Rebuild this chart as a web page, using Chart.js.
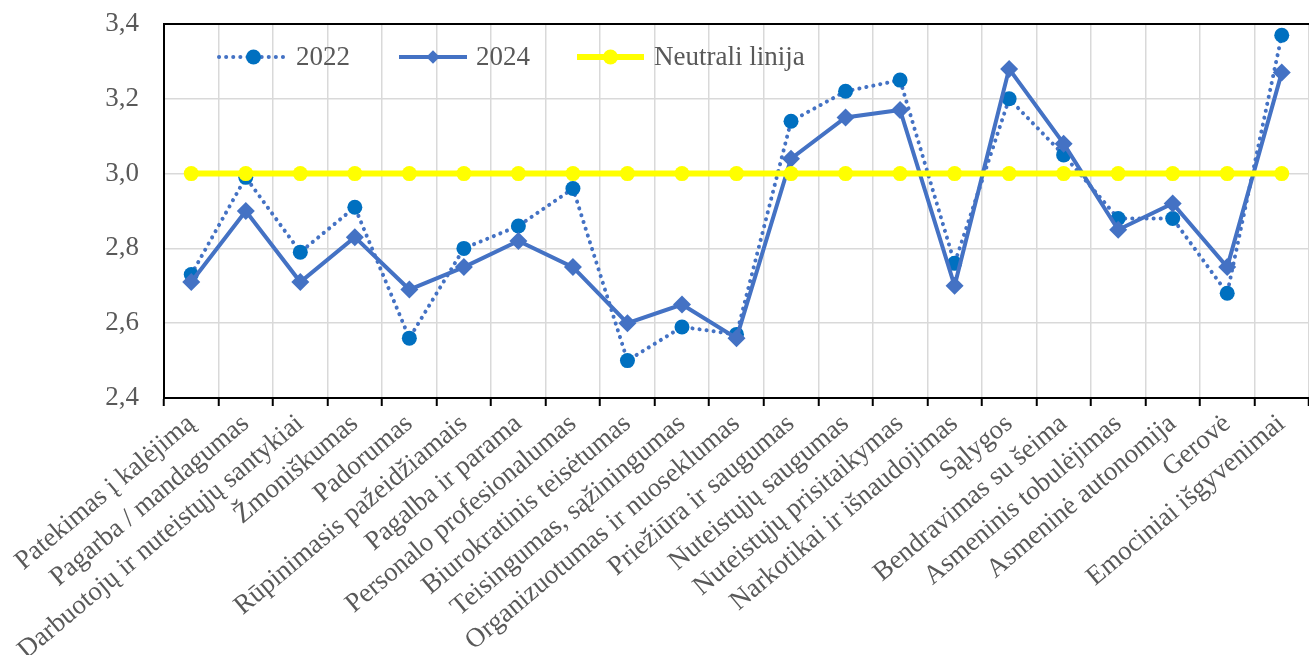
<!DOCTYPE html>
<html lang="lt">
<head>
<meta charset="utf-8">
<script src="https://cdn.jsdelivr.net/npm/chart.js@4/dist/chart.umd.min.js"></script>
<style>
  html, body { margin: 0; padding: 0; background: #fff; }
</style>
</head>
<body>
<canvas id="myChart" width="1309" height="655"></canvas>
<script>
// DUOMENYS ----------------------------------------------------------

const categories = [
  'Patekimas į kalėjimą', 'Pagarba / mandagumas', 'Darbuotojų ir nuteistųjų santykiai',
  'Žmoniškumas', 'Padorumas', 'Rūpinimasis pažeidžiamais', 'Pagalba ir parama',
  'Personalo profesionalumas', 'Biurokratinis teisėtumas', 'Teisingumas, sąžiningumas',
  'Organizuotumas ir nuoseklumas', 'Priežiūra ir saugumas', 'Nuteistųjų saugumas',
  'Nuteistųjų prisitaikymas', 'Narkotikai ir išnaudojimas', 'Sąlygos',
  'Bendravimas su šeima', 'Asmeninis tobulėjimas', 'Asmeninė autonomija',
  'Gerovė', 'Emociniai išgyvenimai'
];

const values2022 = [2.73, 2.99, 2.79, 2.91, 2.56, 2.80, 2.86, 2.96, 2.50, 2.59, 2.57,
                    3.14, 3.22, 3.25, 2.76, 3.20, 3.05, 2.88, 2.88, 2.68, 3.37];

const values2024 = [2.71, 2.90, 2.71, 2.83, 2.69, 2.75, 2.82, 2.75, 2.60, 2.65, 2.56,
                    3.04, 3.15, 3.17, 2.70, 3.28, 3.08, 2.85, 2.92, 2.75, 3.27];

const neutralLine = [3.0, 3.0, 3.0, 3.0, 3.0, 3.0, 3.0, 3.0, 3.0, 3.0, 3.0,
                     3.0, 3.0, 3.0, 3.0, 3.0, 3.0, 3.0, 3.0, 3.0, 3.0];

const yTicks = { min: 2.4, max: 3.4, step: 0.2 };

// STILIUS -----------------------------------------------------------

const textColor = '#595959';
const gridColor = '#d9d9d9';
const fontFamily = '"Liberation Serif", "Times New Roman", serif';
const fontSize = 27;

Chart.defaults.font.family = fontFamily;
Chart.defaults.font.size = fontSize;
Chart.defaults.color = textColor;

// legenda piešiama pačioje diagramoje (viršuje kairėje)
const insideLegend = {
  id: 'insideLegend',
  afterDraw(chart) {
    const c = chart.ctx;
    const y = 57;
    const items = [
      { ds: 0, x1: 219, x2: 288, text: 296 },
      { ds: 1, x1: 399, x2: 467, text: 476 },
      { ds: 2, x1: 577, x2: 644, text: 654 }
    ];
    c.save();
    items.forEach(it => {
      const ds = chart.data.datasets[it.ds];
      c.beginPath();
      c.strokeStyle = ds.borderColor;
      c.lineWidth = ds.borderWidth;
      c.lineCap = ds.borderCapStyle || 'butt';
      c.setLineDash(ds.borderDash || []);
      c.moveTo(it.x1, y);
      c.lineTo(it.x2, y);
      c.stroke();
      c.setLineDash([]);

      const mx = (it.x1 + it.x2) / 2;
      c.fillStyle = ds.pointBackgroundColor;
      c.beginPath();
      if (ds.pointStyle === 'rectRot') {
        const r = ds.pointRadius * 0.75;
        c.moveTo(mx, y - r);
        c.lineTo(mx + r, y);
        c.lineTo(mx, y + r);
        c.lineTo(mx - r, y);
        c.closePath();
      } else {
        c.arc(mx, y, ds.pointRadius, 0, Math.PI * 2);
      }
      c.fill();

      c.fillStyle = textColor;
      c.font = fontSize + 'px ' + fontFamily;
      c.textBaseline = 'middle';
      c.textAlign = 'left';
      c.fillText(ds.label, it.text, y + 1);
    });
    c.restore();
  }
};

const isTop = v => Math.abs(v - yTicks.max) < 1e-6;

const ctx = document.getElementById('myChart');

new Chart(ctx, {
  type: 'line',
  data: {
    labels: categories,
    datasets: [
      {
        label: '2022',
        data: values2022,
        borderColor: '#4472C4',
        borderWidth: 4,
        borderDash: [0.1, 7],
        borderCapStyle: 'round',
        pointStyle: 'circle',
        pointRadius: 7.5,
        pointBorderWidth: 0,
        pointBackgroundColor: '#0070C0',
        pointBorderColor: '#0070C0',
        tension: 0,
        order: 2
      },
      {
        label: '2024',
        data: values2024,
        borderColor: '#4472C4',
        borderWidth: 4,
        pointStyle: 'rectRot',
        pointRadius: 9,
        pointBorderWidth: 0,
        pointBackgroundColor: '#4472C4',
        pointBorderColor: '#4472C4',
        tension: 0,
        order: 1
      },
      {
        label: 'Neutrali linija',
        data: neutralLine,
        borderColor: '#FFFF00',
        borderWidth: 6,
        pointStyle: 'circle',
        pointRadius: 7.5,
        pointBorderWidth: 0,
        pointBackgroundColor: '#FFFF00',
        pointBorderColor: '#FFFF00',
        tension: 0,
        order: 0
      }
    ]
  },
  options: {
    responsive: false,
    animation: false,
    devicePixelRatio: 1,
    layout: { autoPadding: false, padding: { top: 24, left: 0, right: 0, bottom: 0 } },
    plugins: {
      legend: { display: false },
      tooltip: { enabled: false }
    },
    scales: {
      x: {
        offset: true,
        grid: {
          offset: true,
          color: gridColor,
          lineWidth: 1.5,
          tickColor: '#000',
          tickLength: 8,
          tickWidth: 2
        },
        border: { color: '#000', width: 2 },
        ticks: {
          autoSkip: false,
          minRotation: 40,
          maxRotation: 40,
          padding: 2,
          color: textColor,
          font: { size: fontSize }
        },
        afterFit: s => {
          s.height = 257;
          s.paddingLeft = 0;
          s.paddingRight = 0;
        }
      },
      y: {
        min: yTicks.min,
        max: yTicks.max,
        grid: {
          drawTicks: false,
          color: c => (c.tick && isTop(c.tick.value)) ? '#000' : gridColor,
          lineWidth: c => (c.tick && isTop(c.tick.value)) ? 2 : 1.5
        },
        border: { color: '#000', width: 2 },
        ticks: {
          stepSize: yTicks.step,
          padding: 25,
          color: textColor,
          font: { size: fontSize },
          callback: v => v.toFixed(1).replace('.', ',')
        },
        afterFit: s => {
          s.width = 164;
          s.paddingTop = 0;
          s.paddingBottom = 0;
        }
      }
    }
  },
  plugins: [insideLegend]
});
</script>
</body>
</html>
